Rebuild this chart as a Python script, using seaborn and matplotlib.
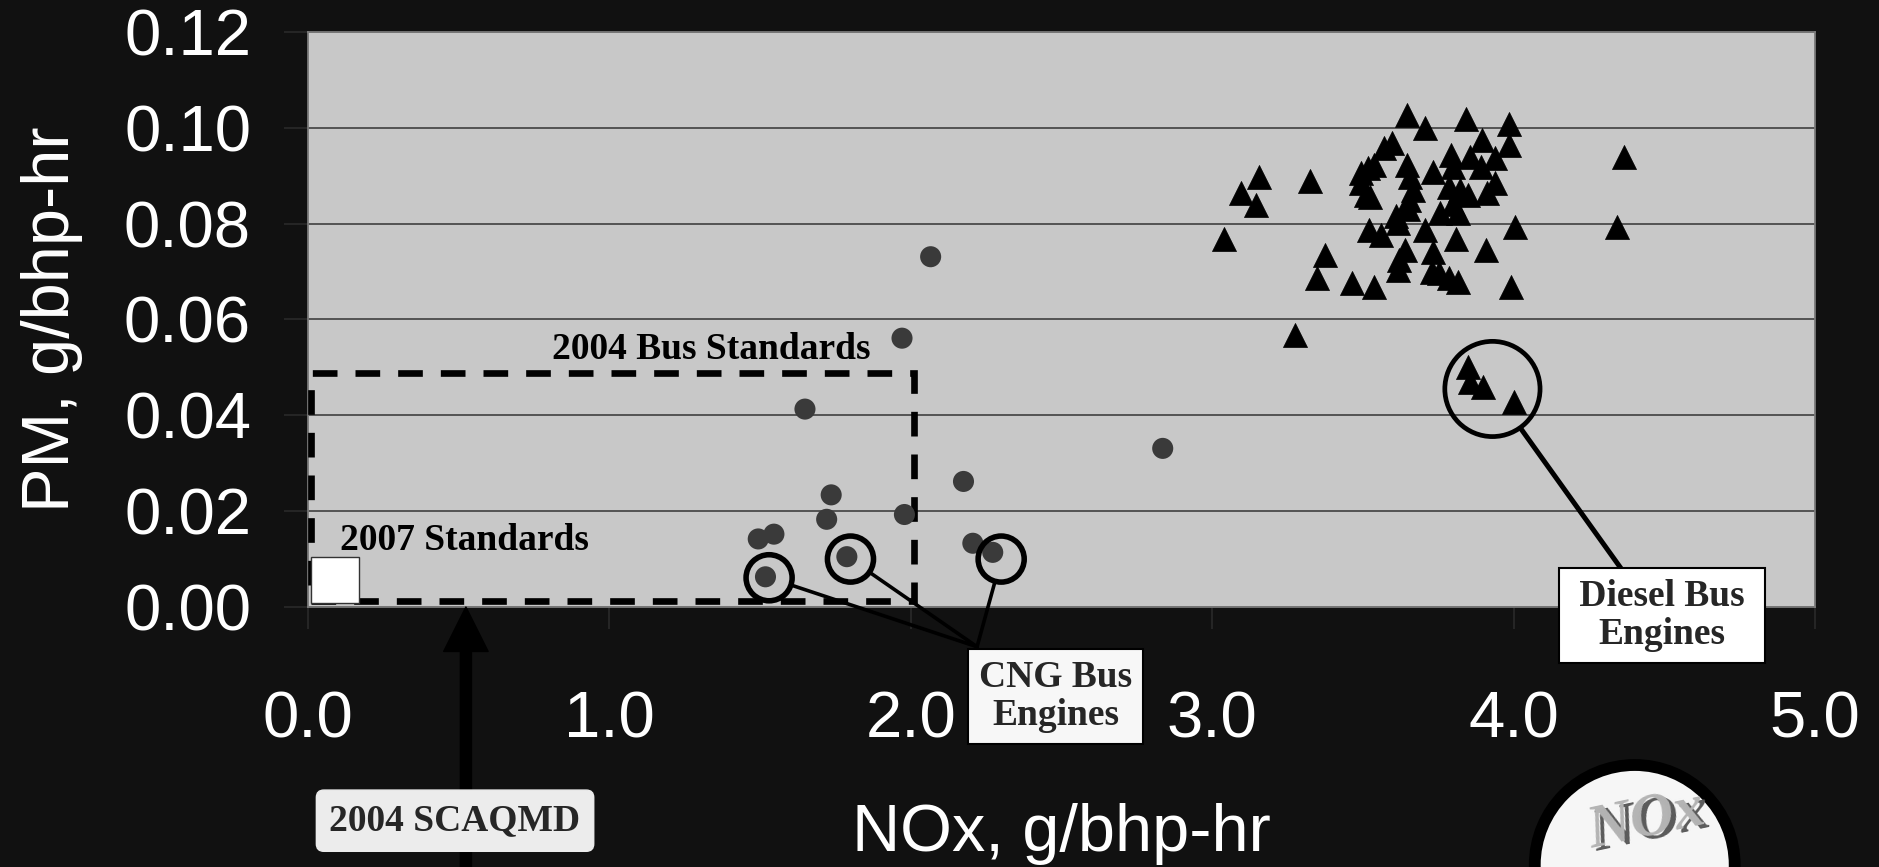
import pandas as pd
import matplotlib.pyplot as plt
import seaborn as sns
from matplotlib.patches import Rectangle, Ellipse


# diesel bus engines (NOx, PM in g/bhp-hr)
diesel_nox = [3.646, 3.705, 3.843, 3.984, 3.984, 3.897, 3.569, 3.597, 4.365, 3.156,
              3.097, 3.147, 3.325, 3.038, 3.518, 3.537, 3.493, 3.493, 3.512, 3.525,
              3.646, 3.656, 3.665, 3.652, 3.733, 3.794, 3.854, 3.892, 3.937, 3.800,
              3.785, 3.823, 3.849, 3.937, 3.911, 3.798, 3.757, 3.817, 3.617, 3.706,
              3.521, 3.559, 4.006, 4.342, 3.808, 3.375, 3.910, 3.640, 3.733, 3.620,
              3.617, 3.347, 3.463, 3.537, 3.728, 3.753, 3.785, 3.817, 3.991, 3.274,
              3.650, 3.610, 3.849, 3.855, 3.900, 4.000]
diesel_pm = [0.1027, 0.0999, 0.1018, 0.1009, 0.0964, 0.0975, 0.0957, 0.0968, 0.0940, 0.0898,
             0.0865, 0.0839, 0.0889, 0.0769, 0.0917, 0.0922, 0.0905, 0.0884, 0.0860, 0.0856,
             0.0922, 0.0898, 0.0870, 0.0849, 0.0908, 0.0943, 0.0940, 0.0919, 0.0936, 0.0919,
             0.0877, 0.0870, 0.0860, 0.0884, 0.0863, 0.0842, 0.0822, 0.0822, 0.0801, 0.0787,
             0.0787, 0.0776, 0.0794, 0.0794, 0.0767, 0.0735, 0.0745, 0.0745, 0.0741, 0.0724,
             0.0703, 0.0686, 0.0676, 0.0668, 0.0700, 0.0696, 0.0686, 0.0679, 0.0668, 0.0568,
             0.0830, 0.0815, 0.0501, 0.0470, 0.0460, 0.0428]

# CNG bus engines
cng_nox = [2.066, 1.971, 1.649, 2.836, 2.175, 1.736, 1.721, 1.979, 1.494, 1.546,
           2.206, 2.272, 1.788, 1.518]
cng_pm = [0.0731, 0.0561, 0.0413, 0.0331, 0.0262, 0.0234, 0.0183, 0.0193, 0.0142, 0.0152,
          0.0133, 0.0114, 0.0105, 0.0063]

# circled engines
cng_ring_nox = [1.53, 1.80, 2.30]
cng_ring_pm = [0.0061, 0.0100, 0.0100]
diesel_ring_nox = [3.93]
diesel_ring_pm = [0.0455]

# standards
bus_2004_nox, bus_2004_pm = 2.01, 0.0488
std_2007_nox, std_2007_pm = 0.16, 0.0096
scaqmd_nox = 0.524

x_ticks = [0, 1, 2, 3, 4, 5]
x_labels = ['0.0', '1.0', '2.0', '3.0', '4.0', '5.0']
y_ticks = [0.00, 0.02, 0.04, 0.06, 0.08, 0.10, 0.12]
y_labels = ['0.00', '0.02', '0.04', '0.06', '0.08', '0.10', '0.12']

diesel = pd.DataFrame({'NOx': diesel_nox, 'PM': diesel_pm})
cng = pd.DataFrame({'NOx': cng_nox, 'PM': cng_pm})

sns.set_style('white', {'axes.facecolor': '#c8c8c8', 'figure.facecolor': '#111111'})
plt.rcParams['font.family'] = ['Liberation Sans', 'DejaVu Sans']

fig = plt.figure(figsize=(18.79, 8.67), dpi=100)
fig.patch.set_facecolor('#111111')
ax = fig.add_axes([0.1639, 0.2999, 0.8020, 0.6632])
ax.set_facecolor('#c8c8c8')

sns.scatterplot(data=cng, x='NOx', y='PM', marker='o', s=230, color='#3a3a3a',
                edgecolor='none', ax=ax, zorder=4, legend=False)
sns.scatterplot(data=diesel, x='NOx', y='PM', marker='^', s=300, color='black',
                edgecolor='black', linewidth=0.5, ax=ax, zorder=4, legend=False)

# rings around highlighted engines
ax.scatter(cng_ring_nox, cng_ring_pm, s=1100, facecolors='none', edgecolors='black',
           linewidths=4, zorder=5)
ax.scatter(diesel_ring_nox, diesel_ring_pm, s=4700, facecolors='none', edgecolors='black',
           linewidths=3.4, zorder=5)

# standards boxes
ax.add_patch(Rectangle((0.01, 0.0012), bus_2004_nox - 0.01, bus_2004_pm - 0.0012, fill=False,
                       edgecolor='black', linewidth=4.8, linestyle=(0, (3.7, 2.7)), zorder=3))
ax.add_patch(Rectangle((0.01, 0.0008), std_2007_nox, std_2007_pm, facecolor='white',
                       edgecolor='#333333', linewidth=1, zorder=6))

serif = dict(family=['Liberation Serif', 'DejaVu Serif'], fontweight='bold', fontsize=27)
ax.text(1.865, 0.0518, '2004 Bus Standards', ha='right', va='baseline', color='black', **serif)
ax.text(0.106, 0.0119, '2007 Standards', ha='left', va='baseline', color='black', **serif)

# callouts
cng_box = (2.48, -0.0187)
for rx, ry in zip(cng_ring_nox, cng_ring_pm):
    ax.annotate('', xy=(rx, ry), xytext=(2.22, -0.0083), annotation_clip=False,
                arrowprops=dict(arrowstyle='-', color='black', lw=2.6, shrinkA=0, shrinkB=17))
ax.text(cng_box[0], cng_box[1], 'CNG Bus\nEngines', ha='center', va='center', linespacing=1.1,
        clip_on=False, zorder=7,
        bbox=dict(boxstyle='square,pad=0.3', facecolor='#f7f7f7', edgecolor='black', lw=1.5),
        **serif)

ax.annotate('', xy=(diesel_ring_nox[0], diesel_ring_pm[0]), xytext=(4.356, 0.0081),
            annotation_clip=False,
            arrowprops=dict(arrowstyle='-', color='black', lw=3.6, shrinkA=0, shrinkB=35))
ax.text(4.492, -0.0018, ' Diesel Bus \nEngines', ha='center', va='center', linespacing=1.1,
        clip_on=False, zorder=7,
        bbox=dict(boxstyle='square,pad=0.3', facecolor='white', edgecolor='black', lw=1.5),
        **serif)

# SCAQMD arrow
ax.annotate('', xy=(scaqmd_nox, 0), xytext=(scaqmd_nox, -0.07), annotation_clip=False,
            arrowprops=dict(arrowstyle='simple,head_length=1.0,head_width=1.0,tail_width=0.25',
                            mutation_scale=32, color='black', shrinkA=0, shrinkB=0), zorder=6)
ax.text(0.488, -0.0446, '2004 SCAQMD', ha='center', va='center', clip_on=False, zorder=7,
        bbox=dict(boxstyle='round,pad=0.35,rounding_size=0.2', facecolor='#ececec',
                  edgecolor='#ececec'),
        **serif)

ax.set_xlim(0, 5)
ax.set_ylim(0, 0.12)
ax.set_xticks(x_ticks)
ax.set_xticklabels(x_labels)
ax.set_yticks(y_ticks)
ax.set_yticklabels(y_labels)
ax.tick_params(axis='x', direction='out', length=16, width=1.2, color='#2a2a2a',
               labelsize=47, labelcolor='white', pad=44, bottom=True)
ax.tick_params(axis='y', direction='out', length=17, width=1.2, color='#2a2a2a',
               labelsize=47, labelcolor='white', pad=24, left=True)
ax.yaxis.grid(True, color='#4a4a4a', linewidth=1.3)
ax.xaxis.grid(False)
ax.set_axisbelow(True)
for sp in ax.spines.values():
    sp.set_visible(True)
    sp.set_color('#7a7a7a')
    sp.set_linewidth(1.3)

ax.set_xlabel('NOx, g/bhp-hr', fontsize=48, color='white')
ax.set_ylabel('PM, g/bhp-hr', fontsize=48, color='white')
ax.xaxis.set_label_coords(0.5, -0.341)
ax.yaxis.set_label_coords(-0.149, 0.5)

# NOx badge in the corner
fig.add_artist(Ellipse((0.870, 0.0023), 0.1064, 0.2307, transform=fig.transFigure,
                       facecolor='#f6f6f6', edgecolor='black', linewidth=8.5, zorder=1))
badge = dict(ha='center', va='bottom', fontsize=44, fontweight='bold', style='italic',
             family=['Liberation Serif', 'DejaVu Serif'], rotation=12)
fig.text(0.879, 0.004, 'NOx', color='#5a5a5a', zorder=2, **badge)
fig.text(0.876, 0.008, 'NOx', color='#b4b4b4', zorder=3, **badge)

fig.savefig('out.png', dpi=100, facecolor=fig.get_facecolor())
